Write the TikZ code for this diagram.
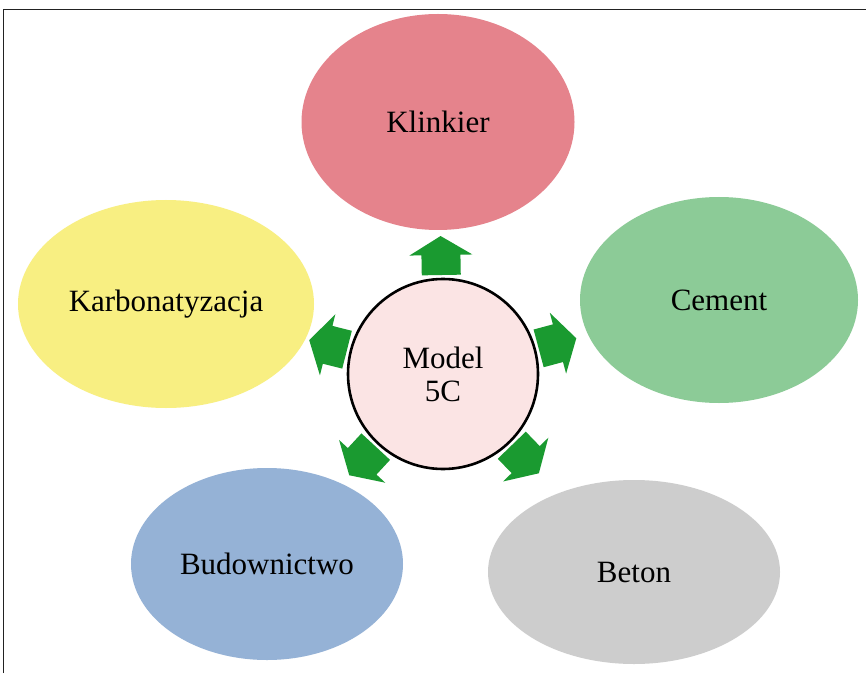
\documentclass[tikz,border=0pt]{standalone}
\usepackage{fontspec}
\setmainfont{Liberation Serif}
\usetikzlibrary{shapes.geometric}
\definecolor{cKlink}{HTML}{E5838C}
\definecolor{cCem}{HTML}{8CCB97}
\definecolor{cKarb}{HTML}{F8EF82}
\definecolor{cBud}{HTML}{95B2D6}
\definecolor{cBet}{HTML}{CDCDCD}
\definecolor{cCen}{HTML}{FBE4E4}
\definecolor{cArr}{HTML}{1A9A30}
\definecolor{cFrame}{HTML}{222222}
\tikzset{
  bubble/.style={ellipse, draw=none, inner sep=0pt, font=\fontsize{31}{36}\selectfont},
  hub/.style={circle, draw=black, line width=2.6pt, fill=cCen, minimum size=190pt, inner sep=0pt, align=center, font=\fontsize{31}{33}\selectfont},
  blockarrow/.style={fill=cArr, draw=none},
  frameline/.style={draw=cFrame, line width=1pt}
}
\begin{document}
\begin{tikzpicture}[x=1pt,y=1pt]
\useasboundingbox (0,0) rectangle (866,673);
\fill[white] (0,0) rectangle (866,673);
\coordinate (ftl) at (3,663.5);
\coordinate (ftr) at (866,663.5);
\coordinate (fbl) at (3,0);
\draw[frameline] (fbl) -- (ftl) -- (ftr);
\node[bubble, fill=cKlink, minimum width=273pt, minimum height=216pt] (kl) at (438,551) {Klinkier};
\node[bubble, fill=cCem, minimum width=278pt, minimum height=206pt] (ce) at (719,373) {Cement};
\node[bubble, fill=cKarb, minimum width=296pt, minimum height=208pt] (ka) at (166,369) {Karbonatyzacja};
\node[bubble, fill=cBud, minimum width=272pt, minimum height=192pt] (bu) at (267,109) {Budownictwo};
\node[bubble, fill=cBet, minimum width=292pt, minimum height=184pt] (be) at (634,101) {Beton};
\node[hub] (c) at (443,299) {Model\\5C};
\foreach \a in {91,15,-46,-132.8,165.8}{
  \fill[blockarrow, shift={(c.center)}, rotate=\a]
    (99,-19.5) -- (119,-19.5) -- (119,-31.5) -- (138,0) -- (119,31.5) -- (119,19.5) -- (99,19.5) -- cycle;
}
\end{tikzpicture}
\end{document}
